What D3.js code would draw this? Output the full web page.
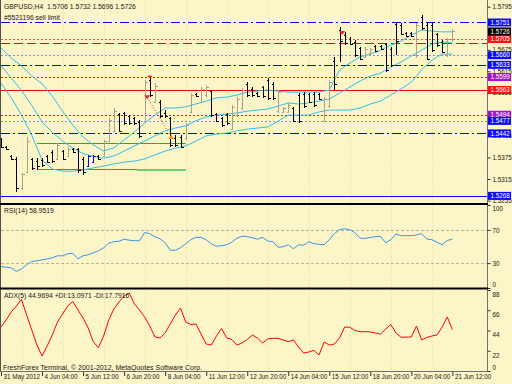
<!DOCTYPE html>
<html>
<head>
<meta charset="utf-8">
<script src="https://cdn.jsdelivr.net/npm/d3@7"></script>
<style>
html, body { margin: 0; padding: 0; background: #fcf5c7; }
svg { display: block; font-family: "Liberation Sans", Arial, sans-serif; }
</style>
</head>
<body>
<svg id="chart" width="512" height="384"></svg>
<script>
// GBPUSD H4 bars, 31 May - 21 Jun 2012
var opens = [1.5425,1.5405,1.5380,1.5372,1.5290,1.5335,1.5370,1.5365,1.5368,1.5378,
  1.5390,1.5370,1.5392,1.5380,1.5398,1.5398,1.5370,1.5352,1.5362,1.5380,
  1.5380,1.5420,1.5450,1.5495,1.5498,1.5490,1.5485,1.5475,1.5478,1.5590,
  1.5530,1.5530,1.5500,1.5485,1.5430,1.5432,1.5428,1.5502,1.5552,1.5530,
  1.5548,1.5560,1.5495,1.5485,1.5495,1.5455,1.5492,1.5512,1.5580,1.5566,
  1.5555,1.5570,1.5590,1.5580,1.5505,1.5502,1.5503,1.5512,1.5550,1.5552,
  1.5552,1.5553,1.5553,1.5478,1.5518,1.5645,1.5730,1.5715,1.5705,1.5698,
  1.5680,1.5655,1.5665,1.5685,1.5686,1.5690,1.5678,1.5748,1.5745,1.5722,
  1.5722,1.5660,1.5765,1.5745,1.5745,1.5718,1.5698,1.5660,1.5706];
var highs = [1.5429,1.5407,1.5382,1.5376,1.5331,1.5432,1.5373,1.5373,1.5373,1.5382,
  1.5396,1.5415,1.5396,1.5404,1.5401,1.5401,1.5376,1.5382,1.5382,1.5382,
  1.5424,1.5485,1.5513,1.5499,1.5502,1.5493,1.5488,1.5479,1.5591,1.5596,
  1.5582,1.5535,1.5507,1.5488,1.5437,1.5437,1.5471,1.5555,1.5555,1.5571,
  1.5577,1.5563,1.5499,1.5488,1.5499,1.5521,1.5543,1.5568,1.5585,1.5571,
  1.5557,1.5574,1.5596,1.5585,1.5563,1.5516,1.5527,1.5516,1.5555,1.5557,
  1.5555,1.5557,1.5555,1.5543,1.5591,1.5655,1.5738,1.5725,1.5711,1.5702,
  1.5683,1.5683,1.5680,1.5688,1.5688,1.5694,1.5683,1.5752,1.5750,1.5725,
  1.5725,1.5750,1.5772,1.5750,1.5750,1.5722,1.5702,1.5708,1.5732];
var lows = [1.5401,1.5396,1.5368,1.5279,1.5284,1.5331,1.5340,1.5340,1.5348,1.5359,
  1.5359,1.5368,1.5368,1.5376,1.5387,1.5331,1.5326,1.5348,1.5359,1.5368,
  1.5376,1.5418,1.5446,1.5446,1.5465,1.5465,1.5465,1.5429,1.5474,1.5543,
  1.5527,1.5485,1.5485,1.5404,1.5404,1.5401,1.5424,1.5499,1.5543,1.5527,
  1.5543,1.5488,1.5474,1.5460,1.5465,1.5451,1.5488,1.5507,1.5543,1.5543,
  1.5543,1.5541,1.5535,1.5535,1.5499,1.5499,1.5499,1.5474,1.5471,1.5513,
  1.5527,1.5516,1.5535,1.5474,1.5513,1.5563,1.5641,1.5688,1.5688,1.5655,
  1.5646,1.5652,1.5660,1.5669,1.5674,1.5613,1.5627,1.5660,1.5716,1.5711,
  1.5711,1.5652,1.5730,1.5646,1.5669,1.5683,1.5666,1.5655,1.5696];
var closes = [1.5405,1.5398,1.5372,1.5290,1.5328,1.5420,1.5345,1.5350,1.5355,1.5362,
  1.5365,1.5410,1.5372,1.5400,1.5390,1.5340,1.5335,1.5378,1.5378,1.5372,
  1.5420,1.5480,1.5505,1.5450,1.5470,1.5470,1.5470,1.5435,1.5585,1.5548,
  1.5575,1.5490,1.5490,1.5410,1.5410,1.5405,1.5465,1.5550,1.5546,1.5565,
  1.5572,1.5492,1.5478,1.5465,1.5470,1.5515,1.5538,1.5562,1.5548,1.5548,
  1.5546,1.5545,1.5540,1.5540,1.5558,1.5512,1.5522,1.5478,1.5476,1.5518,
  1.5530,1.5520,1.5538,1.5538,1.5585,1.5580,1.5700,1.5695,1.5692,1.5660,
  1.5650,1.5678,1.5676,1.5672,1.5676,1.5620,1.5632,1.5700,1.5720,1.5714,
  1.5714,1.5745,1.5735,1.5650,1.5675,1.5688,1.5670,1.5706,1.5726];
var markedBars = [17, 18];

// cyan Bollinger-style lines, read every second bar
var bandBars = d3.range(0, 89, 2);
var bandUpper = [1.5680,1.5652,1.5630,1.5602,1.5580,1.5546,1.5504,1.5465,1.5432,1.5410,
  1.5393,1.5402,1.5424,1.5446,1.5471,1.5493,1.5513,1.5513,1.5516,1.5524,
  1.5532,1.5541,1.5543,1.5549,1.5557,1.5560,1.5563,1.5560,1.5557,1.5557,
  1.5557,1.5557,1.5563,1.5619,1.5638,1.5655,1.5663,1.5674,1.5688,1.5699,
  1.5716,1.5730,1.5727,1.5725,1.5725];
var bandMiddle = [1.5631,1.5596,1.5562,1.5520,1.5474,1.5445,1.5421,1.5401,1.5386,1.5378,
  1.5373,1.5379,1.5393,1.5407,1.5421,1.5435,1.5449,1.5457,1.5463,1.5477,
  1.5488,1.5493,1.5496,1.5499,1.5504,1.5507,1.5510,1.5518,1.5527,1.5524,
  1.5527,1.5532,1.5538,1.5554,1.5571,1.5588,1.5602,1.5610,1.5627,1.5641,
  1.5658,1.5674,1.5691,1.5697,1.5694];
var bandLower = [1.5582,1.5541,1.5493,1.5437,1.5368,1.5343,1.5337,1.5337,1.5340,1.5346,
  1.5351,1.5357,1.5362,1.5365,1.5371,1.5382,1.5393,1.5401,1.5407,1.5421,
  1.5435,1.5440,1.5443,1.5449,1.5454,1.5457,1.5460,1.5476,1.5493,1.5493,
  1.5493,1.5502,1.5507,1.5507,1.5507,1.5513,1.5524,1.5532,1.5549,1.5566,
  1.5585,1.5619,1.5646,1.5663,1.5663];

var rsi = [25.8,25.1,24.2,20,23,28,32,32.7,34,35,
  36.4,38.8,38.8,41.2,41.8,35.2,38.8,40,42.4,44.8,
  48.5,54,55.8,56.4,58.8,57.6,57,57,66.7,65.5,
  61.8,59.4,54.5,45.5,45.5,48.5,53.3,58.2,61,61,
  58.2,53.3,50.3,50.9,52.1,55.2,60,62.4,61.8,60.6,
  58.8,61,56.4,56,49.1,49.7,52.1,47.3,52.1,51.5,
  55.8,53.3,52.7,52.1,58.2,65.5,70.3,71.2,70.3,66.7,
  60,59.8,61,61.8,62.2,54.5,58.2,65.1,63,63,
  63,63.9,65.5,59,58.2,55.2,52.1,57.3,58.95];
var adx = [47.8,55.4,64.1,70.6,77.7,60.8,44.5,28.2,16.3,27.2,
  39.1,53.2,61.9,70.6,75.5,66.3,57.6,46.7,31.5,25.5,
  38,55.4,67.4,75,81.5,84.7,72.8,66.3,58.7,48.9,
  37,35.9,41.3,51.1,60.8,68.4,53.2,50.5,51.1,40.2,
  29.3,28.2,38,46.2,35.9,34.2,28.2,30.4,34.2,39.1,
  35.9,30.4,34.8,35.5,35.5,33.7,31.8,33.7,26.1,19.6,
  20.6,22.5,17.4,31.5,28.2,29.3,35.9,47.8,47.5,44,
  42.7,42.7,42.4,41.3,40.2,45.6,50.5,41.3,36.6,36.9,
  36.9,48.9,33.7,36.4,38,39.1,47.8,58.7,44.97];

// horizontal lines on the price panel
var levelPrices = [1.5751, 1.5705, 1.5694, 1.5660, 1.5633, 1.5599, 1.5563, 1.5494, 1.5477, 1.5442, 1.5268];
var levelKinds = ["blueDashDot","redDot","redDash","lavDot","blueDashDot","purpleDot","redSolid","purpleDot","lavDot","blueDashDot","blueSolid"];
var greenPrices = [1.54145, 1.5342];
var greenFrom = 7, greenTo = 36;

var priceTicks = [1.5795,1.5675,1.5615,1.5555,1.5435,1.5375,1.5315,1.5255];
var rsiTicks = [100, 70, 30, 0];
var rsiLevels = [70, 30];
var adxTicks = [88, 66, 44, 22, 0];
var labelBars = [0, 8, 16, 24, 32, 40, 48, 56, 64, 72, 80, 88];
var timeLabels = ["31 May 2012","4 Jun 04:00","5 Jun 12:00","6 Jun 20:00","8 Jun 04:00","11 Jun 12:00",
  "12 Jun 20:00","14 Jun 04:00","15 Jun 12:00","18 Jun 20:00","20 Jun 04:00","21 Jun 12:00"];

var styles = {
  blueDashDot: {c: "#0000ff", d: "9,3,2,3", box: "#0a0aff"},
  redDot:      {c: "#ff4a4a", d: "2,2",     box: "#ff1010"},
  redDash:     {c: "#ff0000", d: "9,4",     box: null},
  lavDot:      {c: "#8a8aff", d: "2,2",     box: "#0a0aff"},
  purpleDot:   {c: "#a810f0", d: "2,2",     box: "#a010e0"},
  redSolid:    {c: "#ff0000", d: null,      box: "#ff1010"},
  blueSolid:   {c: "#0000ff", d: null,      box: "#0a0aff"}
};

var svg = d3.select("#chart");
var plotRight = 487.5;

var x = d3.scaleLinear().domain([0, 88]).range([1, 452.4]);
var yP = d3.scaleLinear().domain([1.5795, 1.5268]).range([6.7, 195.9]);
var yR = d3.scaleLinear().domain([0, 100]).range([288, 205]);
var yA = d3.scaleLinear().domain([0, 88]).range([371, 290]);
var px = function(i) { return Math.round(x(i)) + 0.5; };

svg.append("rect").attr("width", 512).attr("height", 384).attr("fill", "#fcf5c7");

var defs = svg.append("defs");
function clip(id, y0, y1) {
  defs.append("clipPath").attr("id", id).append("rect")
    .attr("x", 1).attr("y", y0).attr("width", plotRight - 1).attr("height", y1 - y0);
}
clip("cMain", 0, 203);
clip("cRsi", 205, 287);
clip("cAdx", 290, 371);

// faint vertical grid
var gridBars = d3.range(4, 89, 8);
[[0, 203], [205, 287], [290, 371]].forEach(function(r) {
  svg.append("g").selectAll("line").data(gridBars).join("line")
    .attr("x1", px).attr("x2", px).attr("y1", r[0]).attr("y2", r[1])
    .attr("stroke", "#e2d8a8").attr("stroke-dasharray", "1,2");
});

var main = svg.append("g").attr("clip-path", "url(#cMain)");

// horizontal levels
levelPrices.forEach(function(p, i) {
  var s = styles[levelKinds[i]];
  main.append("line").attr("x1", 1).attr("x2", plotRight)
    .attr("y1", Math.round(yP(p)) + 0.5).attr("y2", Math.round(yP(p)) + 0.5)
    .attr("stroke", s.c).attr("stroke-width", 1)
    .attr("stroke-dasharray", s.d);
});

// green lines
greenPrices.forEach(function(p) {
  main.append("line").attr("x1", x(greenFrom)).attr("x2", x(greenTo))
    .attr("y1", Math.round(yP(p)) + 0.5).attr("y2", Math.round(yP(p)) + 0.5)
    .attr("stroke", "#20b020").attr("stroke-width", 1);
});
main.append("line").attr("x1", x(26.5)).attr("x2", x(greenTo))
  .attr("y1", Math.round(yP(greenPrices[1])) + 1).attr("y2", Math.round(yP(greenPrices[1])) + 1)
  .attr("stroke", "#70d070").attr("stroke-width", 2);

// bands
var bandLine = d3.line().x(function(d, k) { return x(bandBars[k]); }).y(function(d) { return yP(d); });
[bandUpper, bandMiddle, bandLower].forEach(function(b) {
  main.append("path").attr("d", bandLine(b))
    .attr("fill", "none").attr("stroke", "#2ec0f0").attr("stroke-width", 1);
});

// OHLC bars
var barG = main.append("g").attr("shape-rendering", "crispEdges");
d3.range(opens.length).forEach(function(i) {
  var cx = px(i);
  var col = markedBars.indexOf(i) >= 0 ? "#0000ff" : (closes[i] >= opens[i] ? "#a8a28a" : "#000000");
  var yo = Math.round(yP(opens[i])) + 0.5, yc = Math.round(yP(closes[i])) + 0.5;
  barG.append("path")
    .attr("d", "M" + cx + "," + yP(highs[i]) + "V" + yP(lows[i]) +
      "M" + (cx - 2) + "," + yo + "H" + cx + "M" + cx + "," + yc + "H" + (cx + 2))
    .attr("stroke", col).attr("fill", "none");
});

// trade marks
main.append("line").attr("x1", x(28.5)).attr("y1", yP(1.5543)).attr("x2", x(33.2)).attr("y2", yP(1.5432))
  .attr("stroke", "#ff2020").attr("stroke-dasharray", "1,2");
main.append("path").attr("d", "M" + (x(28.5) - 3) + "," + (yP(1.5543) - 2) + "l6,0l-3,4z").attr("fill", "#ff2020");
main.append("path").attr("d", "M" + (x(33.2) - 3) + "," + (yP(1.5432) + 2) + "l6,0l-3,-4z").attr("fill", "#ff9020");
main.append("line").attr("x1", x(28.6)).attr("x2", x(29.4)).attr("y1", yP(1.5601)).attr("y2", yP(1.5601))
  .attr("stroke", "#ff2020").attr("stroke-width", 1.5);
main.append("line").attr("x1", x(66.5)).attr("y1", yP(1.5722)).attr("x2", x(68.3)).attr("y2", yP(1.5700))
  .attr("stroke", "#ff2020").attr("stroke-dasharray", "1,2");
main.append("path").attr("d", "M" + (x(66.5) - 3) + "," + (yP(1.5722) - 2) + "l6,0l-3,4z").attr("fill", "#ff2020");

// RSI panel
var rsiG = svg.append("g").attr("clip-path", "url(#cRsi)");
rsiLevels.forEach(function(v) {
  rsiG.append("line").attr("x1", 1).attr("x2", plotRight)
    .attr("y1", Math.round(yR(v)) + 0.5).attr("y2", Math.round(yR(v)) + 0.5)
    .attr("stroke", "#bdb59a").attr("stroke-dasharray", "3,2");
});
rsiG.append("path").datum(rsi)
  .attr("d", d3.line().x(function(d, i) { return x(i); }).y(function(d) { return yR(d); }))
  .attr("fill", "none").attr("stroke", "#3397f0").attr("stroke-width", 1);

// ADX panel
var adxG = svg.append("g").attr("clip-path", "url(#cAdx)");
adxG.append("path").datum(adx)
  .attr("d", d3.line().x(function(d, i) { return x(i); }).y(function(d) { return yA(d); }))
  .attr("fill", "none").attr("stroke", "#ff0000").attr("stroke-width", 1);

// frame
svg.append("line").attr("x1", 0.5).attr("x2", 0.5).attr("y1", 0).attr("y2", 372).attr("stroke", "#505050");
svg.append("line").attr("x1", plotRight).attr("x2", plotRight).attr("y1", 0).attr("y2", 372).attr("stroke", "#707070");
svg.append("line").attr("x1", 0).attr("x2", plotRight).attr("y1", 371.5).attr("y2", 371.5).attr("stroke", "#707070");
[204, 288.5].forEach(function(yy) {
  svg.append("line").attr("x1", 0).attr("x2", plotRight + 0.5).attr("y1", yy).attr("y2", yy)
    .attr("stroke", "#000").attr("stroke-width", 2);
});

function styleAxis(g) {
  g.attr("font-size", null).attr("font-family", null);
  g.select(".domain").remove();
  g.selectAll("line").attr("stroke", "#303030");
  g.selectAll("text").attr("font-size", "6.3px").attr("fill", "#202020");
}

// price axis
var pa = svg.append("g").attr("transform", "translate(" + plotRight + ",0)")
  .call(d3.axisRight(yP).tickValues(priceTicks).tickFormat(d3.format(".4f")).tickSize(3).tickPadding(2));
styleAxis(pa);

// level boxes
var boxG = svg.append("g");
levelPrices.forEach(function(p, i) {
  var s = styles[levelKinds[i]];
  if (!s.box) return;
  var yy = yP(p);
  boxG.append("rect").attr("x", plotRight + 0.5).attr("y", yy - 4).attr("width", 23).attr("height", 8).attr("fill", s.box);
  boxG.append("text").attr("x", plotRight + 3).attr("y", yy).attr("dy", "0.35em")
    .attr("font-size", "6.3px").attr("fill", "#fff").text(d3.format(".4f")(p));
});
var bid = closes[closes.length - 1];
boxG.append("rect").attr("x", plotRight + 0.5).attr("y", yP(bid) - 4).attr("width", 23).attr("height", 8).attr("fill", "#000");
boxG.append("text").attr("x", plotRight + 3).attr("y", yP(bid)).attr("dy", "0.35em")
  .attr("font-size", "6.3px").attr("fill", "#fff").text(d3.format(".4f")(bid));

// RSI axis
var ra = svg.append("g").attr("transform", "translate(" + plotRight + ",0)")
  .call(d3.axisRight(yR).tickValues(rsiTicks).tickSize(3).tickPadding(2));
styleAxis(ra);
ra.selectAll(".tick text").attr("dy", function(d) { return d === 100 ? "0.9em" : (d === 0 ? "-0.2em" : "0.35em"); });

// ADX axis
var aa = svg.append("g").attr("transform", "translate(" + plotRight + ",0)")
  .call(d3.axisRight(yA).tickValues(adxTicks).tickSize(3).tickPadding(2));
styleAxis(aa);
aa.selectAll(".tick text").attr("dy", function(d) { return d === 0 ? "-0.2em" : "1em"; });

// time axis
var ta = svg.append("g").attr("transform", "translate(0,372)")
  .call(d3.axisBottom(x).tickValues(labelBars).tickSize(4)
    .tickFormat(function(d) { return timeLabels[labelBars.indexOf(d)]; }));
styleAxis(ta);
ta.selectAll(".tick text").attr("text-anchor", "start").attr("x", 2).attr("y", 3).attr("dy", "0.71em");

// captions
var cap = svg.append("g").attr("font-size", "6.8px").attr("fill", "#202020");
cap.append("text").attr("x", 4).attr("y", 9).attr("xml:space", "preserve")
  .text("GBPUSD,H4  1.5706 1.5732 1.5696 1.5726");
cap.append("text").attr("x", 4).attr("y", 19.5).text("#5521196 sell limit");
cap.append("text").attr("x", 4).attr("y", 213).text("RSI(14) 58.9519");
cap.append("text").attr("x", 4).attr("y", 298).text("ADX(5) 44.9694 +DI:13.0971 -DI:17.7916");
cap.append("text").attr("x", 3).attr("y", 370).attr("font-size", "7px")
  .text("FreshForex Terminal, \u00a9 2001-2012, MetaQuotes Software Corp.");
</script>
</body>
</html>
